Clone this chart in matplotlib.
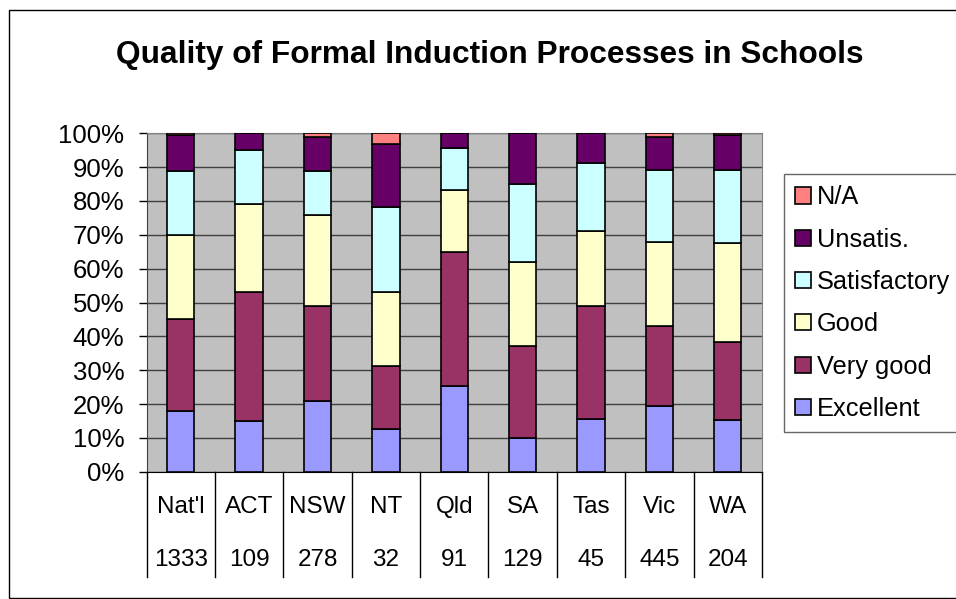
import numpy as np
import matplotlib
matplotlib.use("Agg")
import matplotlib.pyplot as plt
from matplotlib.patches import Rectangle
from matplotlib.ticker import PercentFormatter

plt.rcParams['font.family'] = ['Liberation Sans', 'DejaVu Sans']

# data (percent of schools in each state)
states = ["Nat'l", "ACT", "NSW", "NT", "Qld", "SA", "Tas", "Vic", "WA"]
counts = ["1333", "109", "278", "32", "91", "129", "45", "445", "204"]

excellent = [18, 15, 21, 12.5, 25.3, 10, 15.6, 19.4, 15.3]
very_good = [27, 38, 28, 18.75, 39.7, 27, 33.3, 23.7, 23.1]
good = [25, 26, 27, 21.9, 18.2, 25, 22.2, 24.8, 29.1]
satisfactory = [19, 16, 13, 25, 12.5, 23, 20, 21.3, 21.7]
unsatis = [10.4, 5, 10, 18.75, 4.3, 15, 8.9, 9.6, 10.4]
na = [0.6, 0, 1, 3.1, 0, 0, 0, 1.2, 0.6]

series = [
    ("Excellent", excellent, "#9999FF"),
    ("Very good", very_good, "#993366"),
    ("Good", good, "#FFFFCC"),
    ("Satisfactory", satisfactory, "#CCFFFF"),
    ("Unsatis.", unsatis, "#660066"),
    ("N/A", na, "#FF8080"),
]

W, H = 956, 599
fig = plt.figure(figsize=(W / 100, H / 100), dpi=100)
fig.patch.set_facecolor("white")

# chart area border
fig.patches.append(Rectangle((9 / W, 1 / H), 1.2, 1 - 11 / H, transform=fig.transFigure,
                             fill=False, edgecolor="black", linewidth=1.0))

ax = fig.add_axes([146.5 / W, (H - 471.7) / H, (762 - 146.5) / W, (471.7 - 133.3) / H])
ax.set_facecolor("#C0C0C0")

x = np.arange(len(states))
bottom = np.zeros(len(states))
handles = []
for name, vals, col in series:
    vals = np.array(vals, dtype=float)
    b = ax.bar(x, vals, width=0.4, bottom=bottom, color=col, edgecolor="black",
               linewidth=1.2, label=name, zorder=3)
    handles.append(b)
    bottom += vals

ax.set_xlim(-0.5, len(states) - 0.5)
ax.set_ylim(0, 100)
ax.set_yticks(np.arange(0, 101, 10))
ax.yaxis.set_major_formatter(PercentFormatter(decimals=0))
ax.tick_params(axis="y", labelsize=18.5, length=6, width=1, pad=10, direction="out")
ax.set_xticks([])
ax.grid(axis="y", color="#404040", linewidth=1, zorder=1)
for s in ["top", "right"]:
    ax.spines[s].set_color("#808080")
ax.spines["left"].set_color("#404040")
ax.spines["bottom"].set_color("black")

# data table below the axis
trans = ax.get_xaxis_transform()
for i in range(len(states) + 1):
    ax.plot([i - 0.5, i - 0.5], [0, -0.311], transform=trans, color="black",
            linewidth=1, clip_on=False)
for i, (s, c) in enumerate(zip(states, counts)):
    ax.text(i, -0.105, s, transform=trans, ha="center", va="center", fontsize=17.5)
    ax.text(i, -0.26, c, transform=trans, ha="center", va="center", fontsize=17.5)

fig.text(490 / W, 1 - 55 / H, "Quality of Formal Induction Processes in Schools",
         ha="center", va="center", fontsize=22.8, fontweight="bold")

leg = ax.legend(handles=handles[::-1], loc="upper left",
                bbox_to_anchor=(784 / W, 1 - 174 / H), bbox_transform=fig.transFigure,
                frameon=True, fancybox=False, edgecolor="#404040", fontsize=18.3,
                handlelength=0.6, handleheight=0.6, handletextpad=0.25,
                labelspacing=0.72, borderpad=0.45, borderaxespad=0)
leg.get_frame().set_linewidth(1)

fig.savefig("out.png", dpi=100)
